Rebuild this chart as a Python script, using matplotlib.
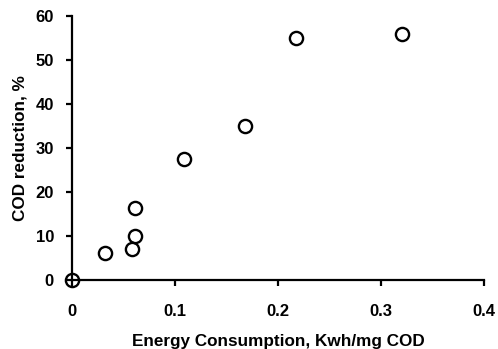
import matplotlib
matplotlib.use("Agg")
import matplotlib.pyplot as plt

energy = [0.0, 0.032, 0.058, 0.061, 0.061, 0.109, 0.168, 0.217, 0.320]
cod_reduction = [0.0, 6.1, 7.0, 10.0, 16.4, 27.5, 35.0, 55.1, 55.9]
x_ticks = [0, 0.1, 0.2, 0.3, 0.4]
x_labels = ["0", "0.1", "0.2", "0.3", "0.4"]
y_ticks = [0, 10, 20, 30, 40, 50, 60]

plt.rcParams['font.family'] = ['Liberation Sans', 'DejaVu Sans']
plt.rcParams['font.weight'] = 'bold'

fig = plt.figure(figsize=(4.98, 3.49), dpi=100)
ax = fig.add_axes([0.1446, 0.198, 0.8274, 0.756])

ax.plot(energy, cod_reduction, linestyle='none', marker='o', markersize=9.5,
        markerfacecolor='none', markeredgecolor='black', markeredgewidth=1.7,
        clip_on=False, zorder=3)

ax.set_xlim(0, 0.4)
ax.set_ylim(0, 60)
ax.set_xticks(x_ticks)
ax.set_xticklabels(x_labels)
ax.set_yticks(y_ticks)

for s in ['top', 'right']:
    ax.spines[s].set_visible(False)
for s in ['left', 'bottom']:
    ax.spines[s].set_linewidth(1.6)

ax.tick_params(axis='both', direction='out', length=4, width=1.6, labelsize=12)
ax.tick_params(axis='x', pad=13)
ax.tick_params(axis='y', pad=9)
for lbl in ax.get_xticklabels() + ax.get_yticklabels():
    lbl.set_fontweight('bold')

ax.set_xlabel("Energy Consumption, Kwh/mg COD", fontsize=12.3, fontweight='bold')
ax.set_ylabel("COD reduction, %", fontsize=12.3, fontweight='bold')
ax.xaxis.set_label_coords(0.5, -0.205)
ax.yaxis.set_label_coords(-0.109, 0.5)

fig.savefig("out.png", dpi=100)
